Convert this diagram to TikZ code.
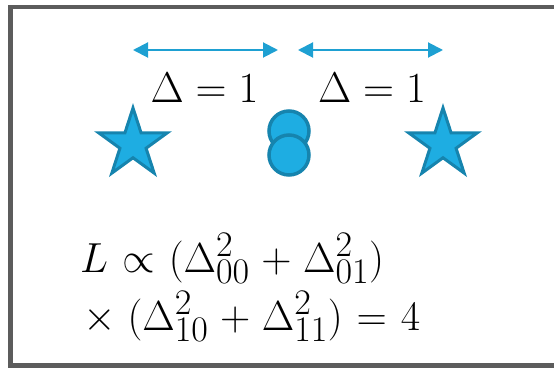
\RequirePackage{fix-cm}
\documentclass[tikz,border=0pt]{standalone}
\usepackage{amsmath}
\usetikzlibrary{shapes.geometric,arrows.meta}
\DeclareMathSizes{42}{42}{36}{28}
\newcommand\fmlsetup{\fontsize{42}{48}\selectfont\thickmuskip=6mu\relax\medmuskip=5mu\relax}
\definecolor{framegray}{RGB}{92,92,92}
\definecolor{shapefill}{RGB}{30,173,226}
\definecolor{shapeline}{RGB}{22,132,174}
\definecolor{arrowblue}{RGB}{30,160,210}
\tikzset{
  frame/.style={draw=framegray,line width=4.5pt},
  starshape/.style={star,star points=5,star point ratio=2.618,minimum size=72pt,inner sep=0pt,
    fill=shapefill,draw=shapeline,line width=3pt},
  dot/.style={circle,minimum size=40pt,inner sep=0pt,fill=shapefill,draw=shapeline,line width=3.5pt},
  dimarrow/.style={draw=arrowblue,line width=2pt,{Triangle[length=15pt,width=15pt]}-{Triangle[length=15pt,width=15pt]}},
  biglabel/.style={font=\fontsize{43}{50}\selectfont,inner sep=0pt,anchor=base},
  formula/.style={font=\fmlsetup,inner sep=0pt,anchor=base west}
}
\begin{document}
\begin{tikzpicture}[x=1pt,y=1pt]
\useasboundingbox (0,0) rectangle (554,367);
\draw[frame] (10.5,1.5) rectangle (570,360);
% arrows
\coordinate (a1l) at (133,317);
\coordinate (a1r) at (278,317);
\coordinate (a2l) at (298,317);
\coordinate (a2r) at (443,317);
\draw[dimarrow] (a1l) -- (a1r);
\draw[dimarrow] (a2l) -- (a2r);
% labels
\node[biglabel] (d1) at (204.5,264) {$\Delta = 1$};
\node[biglabel] (d2) at (372,264) {$\Delta = 1$};
% stars
\node[starshape] (s1) at (133,223) {};
\node[starshape] (s2) at (443,223) {};
% circles
\node[dot] (c1) at (289,236) {};
\node[dot] (c2) at (289,212) {};
% formula
\node[formula] (f1) at (80,95) {$L \propto (\Delta_{00}^2 + \Delta_{01}^2)$};
\node[formula] (f2) at (83,37) {$\times\mskip\medmuskip(\Delta_{10}^2 + \Delta_{11}^2) = 4$};
\end{tikzpicture}
\end{document}
